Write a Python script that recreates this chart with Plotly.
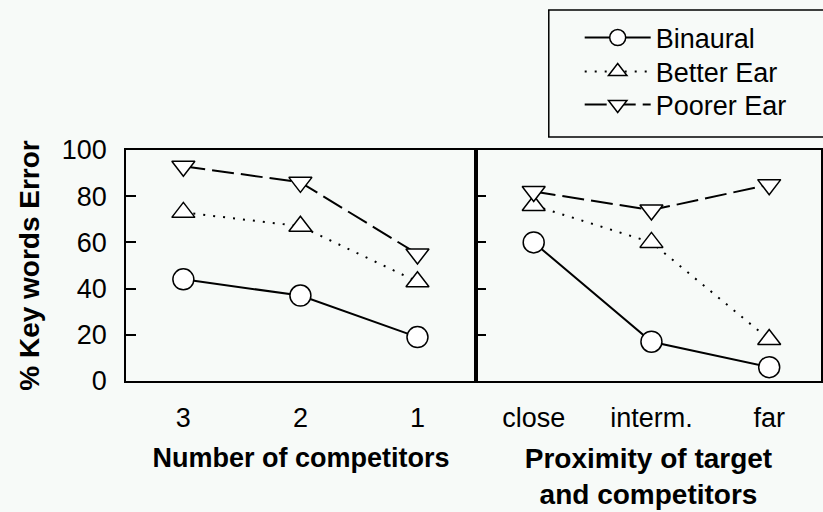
import plotly.graph_objects as go

# ---- data ----
cat_left = ["3", "2", "1"]
cat_right = ["close", "interm.", "far"]
binaural_left = [44, 37, 19]
better_left = [73, 67, 43]
poorer_left = [93, 86, 55]
binaural_right = [60, 17, 6]
better_right = [76, 60, 18]
poorer_right = [82, 74, 85]
y_ticks = [0, 20, 40, 60, 80, 100]

BG = "#f7faf8"
FONT = "Liberation Sans, Arial, sans-serif"

W, H = 823, 512
ml, mr, mt, mb = 126, 0, 150, 131
pw = W - ml - mr
ph = H - mt - mb
split = (477 - ml) / pw


def px_x(x):
    return (x - ml) / pw


def px_y(y):
    return (H - mb - y) / ph


styles = {
    "Binaural": dict(symbol="circle", size=21, dash="solid", legend="legend", row=38),
    "Better Ear": dict(symbol="triangle-up", size=20, dash="2px,8px", legend="legend2", row=72),
    "Poorer Ear": dict(symbol="triangle-down", size=20, dash="22px,7px", legend="legend3", row=105),
}

fig = go.Figure()
series = [
    ("Binaural", binaural_left, binaural_right),
    ("Better Ear", better_left, better_right),
    ("Poorer Ear", poorer_left, poorer_right),
]
for name, yl, yr in series:
    st = styles[name]
    for xs, ys, xa, ya, show in [(cat_left, yl, "x", "y", True), (cat_right, yr, "x2", "y2", False)]:
        fig.add_trace(go.Scatter(
            x=xs, y=ys, xaxis=xa, yaxis=ya, name=name, legendgroup=name,
            legend=st["legend"], showlegend=show, mode="lines+markers",
            line=dict(color="black", width=2, dash=st["dash"]),
            marker=dict(symbol=st["symbol"], size=st["size"], color="white",
                        line=dict(color="black", width=1.5)),
        ))

axis_common = dict(showline=True, linecolor="black", linewidth=1.5, mirror=True,
                   showgrid=False, zeroline=False, color="black")

legend_common = dict(x=px_x(581), xanchor="left", yanchor="middle",
                     bgcolor="rgba(0,0,0,0)", borderwidth=0,
                     font=dict(size=27, family=FONT, color="black"), itemwidth=66)

fig.update_layout(
    width=W, height=H,
    margin=dict(l=ml, r=mr, t=mt, b=mb, pad=0),
    paper_bgcolor=BG, plot_bgcolor=BG,
    font=dict(family=FONT, color="black"),
    showlegend=True,
    legend=dict(y=px_y(styles["Binaural"]["row"]), **legend_common),
    legend2=dict(y=px_y(styles["Better Ear"]["row"]), **legend_common),
    legend3=dict(y=px_y(styles["Poorer Ear"]["row"]), **legend_common),
    shapes=[dict(type="rect", xref="paper", yref="paper",
                 x0=px_x(550), x1=px_x(840), y0=px_y(137), y1=px_y(10),
                 line=dict(color="black", width=1.5), fillcolor="rgba(0,0,0,0)", layer="below")],
    xaxis=dict(domain=[0, split], type="category", range=[-0.49, 2.5],
               ticks="", tickfont=dict(size=27), ticklabelstandoff=12,
               title=dict(text="Number of competitors", font=dict(size=27, weight="bold"), standoff=16),
               **axis_common),
    xaxis2=dict(domain=[split, 1], type="category", range=[-0.49, 2.44],
                ticks="", tickfont=dict(size=27), ticklabelstandoff=12,
                title=dict(text="Proximity of target<br>and competitors", font=dict(size=28, weight="bold"), standoff=16),
                **axis_common),
    yaxis=dict(domain=[0, 1], range=[0, 100], tickvals=y_ticks, ticks="inside", ticklen=10,
               tickwidth=1.5, tickcolor="black", tickfont=dict(size=27), ticklabelstandoff=12,
               title=dict(text="% Key words Error", font=dict(size=28, weight="bold"), standoff=14),
               anchor="x", **axis_common),
    yaxis2=dict(domain=[0, 1], range=[0, 100], tickvals=y_ticks, ticks="inside", ticklen=10,
                tickwidth=1.5, tickcolor="black", showticklabels=False, anchor="x2",
                matches="y", **axis_common),
)

fig.write_html("out.html", config={"displayModeBar": False},
               post_script="document.body.style.margin='0';document.body.style.padding='0';")
